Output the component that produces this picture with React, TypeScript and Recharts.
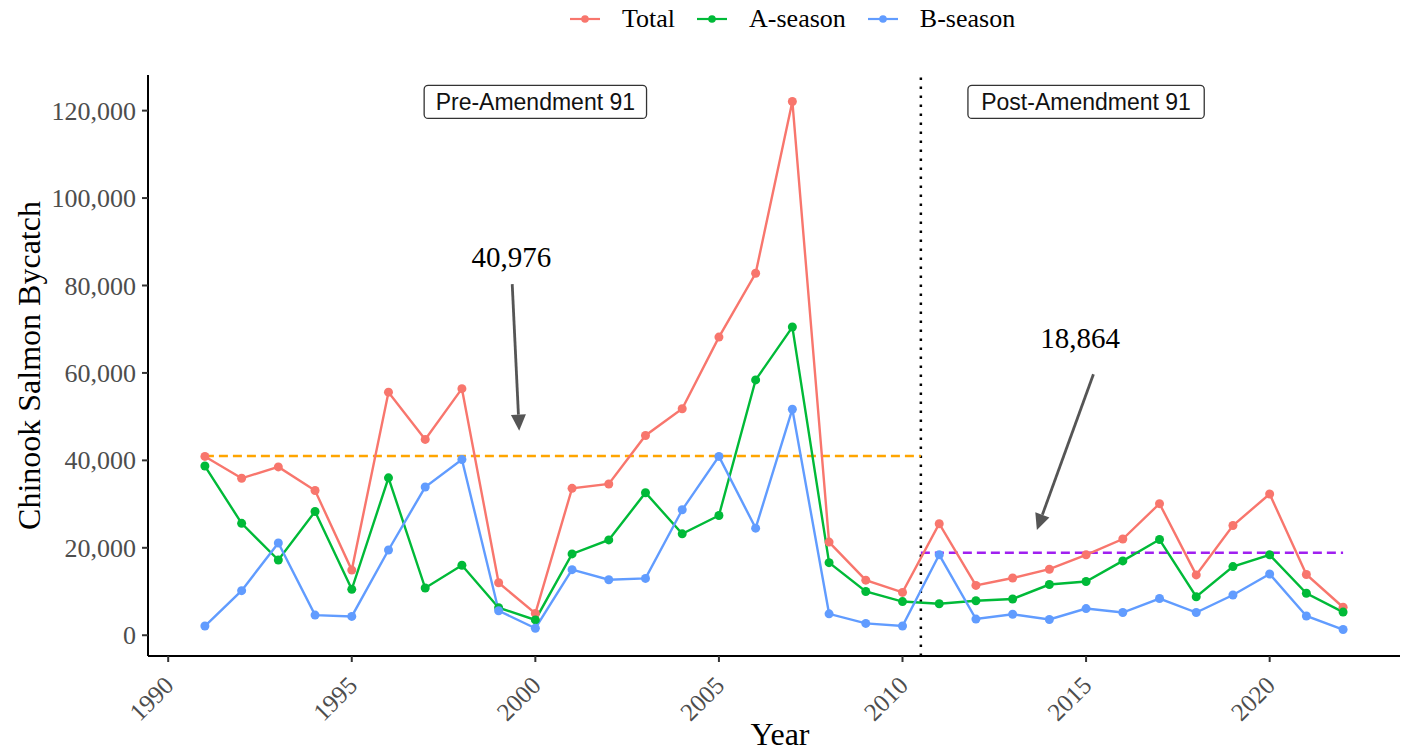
import React from "react";
import { LineChart, Line, XAxis, YAxis, ReferenceLine, ReferenceDot, Legend } from "recharts";

const years = [
  1991, 1992, 1993, 1994, 1995, 1996, 1997, 1998, 1999, 2000, 2001, 2002, 2003, 2004, 2005, 2006,
  2007, 2008, 2009, 2010, 2011, 2012, 2013, 2014, 2015, 2016, 2017, 2018, 2019, 2020, 2021, 2022,
];
const totalBycatch = [
  40900, 35900, 38500, 33100, 14900, 55600, 44800, 56400, 12000, 5000, 33600, 34600, 45700, 51800, 68200, 82800,
  122100, 21300, 12600, 9800, 25500, 11400, 13100, 15100, 18400, 22000, 30100, 13800, 25100, 32300, 13900, 6400,
];
const aSeason = [
  38700, 25600, 17200, 28300, 10500, 36000, 10800, 16000, 6300, 3500, 18600, 21800, 32600, 23200, 27400, 58400,
  70500, 16600, 10000, 7700, 7200, 7900, 8300, 11600, 12300, 17000, 21900, 8800, 15700, 18400, 9600, 5300,
];
const bSeason = [
  2100, 10200, 21100, 4600, 4300, 19500, 33900, 40200, 5600, 1600, 15000, 12700, 13000, 28700, 40900, 24500,
  51700, 4900, 2700, 2100, 18400, 3700, 4800, 3600, 6100, 5200, 8400, 5200, 9200, 14000, 4400, 1300,
];

const seriesNames = ["Total", "A-season", "B-season"];
const xTicks = [1990, 1995, 2000, 2005, 2010, 2015, 2020];
const yTicks = [0, 20000, 40000, 60000, 80000, 100000, 120000];

const amendmentYear = 2010.5;
const preMean = 40976;
const postMean = 18864;

const periodLabels = [
  { year: 2000, value: 122000, text: "Pre-Amendment 91" },
  { year: 2015, value: 122000, text: "Post-Amendment 91" },
];
const meanNotes = [
  { year: 1999.35, value: 86600, text: "40,976" },
  { year: 2014.84, value: 68000, text: "18,864" },
];
const arrows = [
  { x1: 1999.37, y1: 80300, x2: 1999.56, y2: 46800 },
  { x1: 2015.2, y1: 59700, x2: 2013.66, y2: 24100 },
];

const data = years.map((year, i) => ({
  year,
  total: totalBycatch[i],
  a: aSeason[i],
  b: bSeason[i],
}));

const SERIF = "'Liberation Serif', 'Times New Roman', serif";
const SANS = "'Liberation Sans', Arial, sans-serif";

const fmt = (v: number) => v.toLocaleString("en-US");

function XTick(props: any) {
  const { x, y, payload } = props;
  const ax = x + 7;
  const ay = y + 25;
  return (
    <text
      x={ax}
      y={ay}
      transform={`rotate(-45, ${ax}, ${ay})`}
      textAnchor="end"
      fill="#4d4d4d"
      fontSize={25}
      fontFamily={SERIF}
    >
      {payload.value}
    </text>
  );
}

function YTick(props: any) {
  const { x, y, payload } = props;
  return (
    <text x={x} y={y} dy="0.35em" textAnchor="end" fill="#4d4d4d" fontSize={26} fontFamily={SERIF}>
      {fmt(payload.value)}
    </text>
  );
}

function Arrow(props: any) {
  const { x1, y1, x2, y2 } = props;
  const dx = x2 - x1;
  const dy = y2 - y1;
  const len = Math.sqrt(dx * dx + dy * dy);
  const ux = dx / len;
  const uy = dy / len;
  const head = 16;
  const half = 7.5;
  const bx = x2 - ux * head;
  const by = y2 - uy * head;
  const pts = `${x2},${y2} ${bx - uy * half},${by + ux * half} ${bx + uy * half},${by - ux * half}`;
  return (
    <g>
      <line x1={x1} y1={y1} x2={bx} y2={by} stroke="#555" strokeWidth={2.8} />
      <polygon points={pts} fill="#555" />
    </g>
  );
}

function BoxLabel(text: string) {
  return (props: any) => {
    const { cx, cy } = props;
    const w = text.length * 13.9;
    const h = 33;
    return (
      <g>
        <rect x={cx - w / 2} y={cy - h / 2} width={w} height={h} rx={4} fill="#fff" stroke="#333" strokeWidth={1.3} />
        <text x={cx} y={cy} dy="0.36em" textAnchor="middle" fontSize={23} fontFamily={SANS} fill="#111">
          {text}
        </text>
      </g>
    );
  };
}

function NoteText(text: string) {
  return (props: any) => (
    <text x={props.cx} y={props.cy} dy="0.34em" textAnchor="middle" fontSize={29} fontFamily={SERIF} fill="#000">
      {text}
    </text>
  );
}

function LegendContent(props: any) {
  const items = [...(props.payload || [])].sort(
    (p: any, q: any) => seriesNames.indexOf(p.value) - seriesNames.indexOf(q.value)
  );
  return (
    <div style={{ display: "flex", alignItems: "center", height: 38, paddingLeft: 570, fontFamily: SERIF }}>
      {items.map((it: any) => (
        <div key={it.value} style={{ display: "flex", alignItems: "center", marginRight: 22 }}>
          <svg width={30} height={12} style={{ marginRight: 22 }}>
            <line x1={0} y1={6} x2={30} y2={6} stroke={it.color} strokeWidth={2.2} />
            <circle cx={15} cy={6} r={3.8} fill={it.color} />
          </svg>
          <span style={{ fontSize: 26, color: "#000", lineHeight: "38px" }}>{it.value}</span>
        </div>
      ))}
    </div>
  );
}

export default function App() {
  return (
    <div style={{ position: "absolute", left: 0, top: 0, width: 1404, height: 752, background: "#fff" }}>
      <LineChart width={1404} height={752} data={data} margin={{ top: 75, right: 4, bottom: 0, left: 0 }}>
        <XAxis
          dataKey="year"
          type="number"
          domain={[1989.45, 2023.55]}
          ticks={xTicks}
          allowDataOverflow
          height={96}
          tickSize={6}
          tickMargin={0}
          tick={<XTick />}
          axisLine={{ stroke: "#000", strokeWidth: 2 }}
          tickLine={{ stroke: "#333", strokeWidth: 2 }}
          label={(p: any) => {
            const vb = p.viewBox;
            return (
              <text x={vb.x + vb.width / 2 + 6} y={vb.y + 89} textAnchor="middle" fontSize={32} fontFamily={SERIF} fill="#000">
                Year
              </text>
            );
          }}
        />
        <YAxis
          type="number"
          domain={[-4750, 128150]}
          ticks={yTicks}
          allowDataOverflow
          width={148}
          tickSize={6}
          tickMargin={6}
          tick={<YTick />}
          axisLine={{ stroke: "#000", strokeWidth: 2 }}
          tickLine={{ stroke: "#333", strokeWidth: 2 }}
          label={(p: any) => {
            const vb = p.viewBox;
            const cx = 40;
            const cy = vb.y + vb.height / 2;
            return (
              <text x={cx} y={cy} transform={`rotate(-90, ${cx}, ${cy})`} textAnchor="middle" fontSize={32} fontFamily={SERIF} fill="#000">
                Chinook Salmon Bycatch
              </text>
            );
          }}
        />
        <Legend
          verticalAlign="top"
          content={<LegendContent />}
          wrapperStyle={{ top: 0, left: 0, width: 1404, height: 0 }}
        />
        <ReferenceLine
          x={amendmentYear}
          stroke="#000"
          strokeWidth={2.5}
          strokeDasharray="2.5 6.5"
        />
        <ReferenceLine
          segment={[{ x: years[0], y: preMean }, { x: amendmentYear, y: preMean }]}
          stroke="#FFA500"
          strokeWidth={2.5}
          strokeDasharray="9 5"
        />
        <ReferenceLine
          segment={[{ x: amendmentYear, y: postMean }, { x: years[years.length - 1], y: postMean }]}
          stroke="#A020F0"
          strokeWidth={2.5}
          strokeDasharray="9 5"
        />
        <Line
          dataKey="total"
          name="Total"
          stroke="#F8766D"
          strokeWidth={2.4}
          dot={{ r: 4.5, fill: "#F8766D", stroke: "#F8766D", strokeWidth: 0 }}
          activeDot={false}
          isAnimationActive={false}
        />
        <Line
          dataKey="a"
          name="A-season"
          stroke="#00BA38"
          strokeWidth={2.4}
          dot={{ r: 4.5, fill: "#00BA38", stroke: "#00BA38", strokeWidth: 0 }}
          activeDot={false}
          isAnimationActive={false}
        />
        <Line
          dataKey="b"
          name="B-season"
          stroke="#619CFF"
          strokeWidth={2.4}
          dot={{ r: 4.5, fill: "#619CFF", stroke: "#619CFF", strokeWidth: 0 }}
          activeDot={false}
          isAnimationActive={false}
        />
        {arrows.map((a, i) => (
          <ReferenceLine
            key={`arrow-${i}`}
            segment={[{ x: a.x1, y: a.y1 }, { x: a.x2, y: a.y2 }]}
            ifOverflow="visible"
            shape={(p: any) => <Arrow {...p} />}
          />
        ))}
        {periodLabels.map((l) => (
          <ReferenceDot key={l.text} x={l.year} y={l.value} r={0} ifOverflow="visible" shape={BoxLabel(l.text)} />
        ))}
        {meanNotes.map((n) => (
          <ReferenceDot key={n.text} x={n.year} y={n.value} r={0} ifOverflow="visible" shape={NoteText(n.text)} />
        ))}
      </LineChart>
    </div>
  );
}
